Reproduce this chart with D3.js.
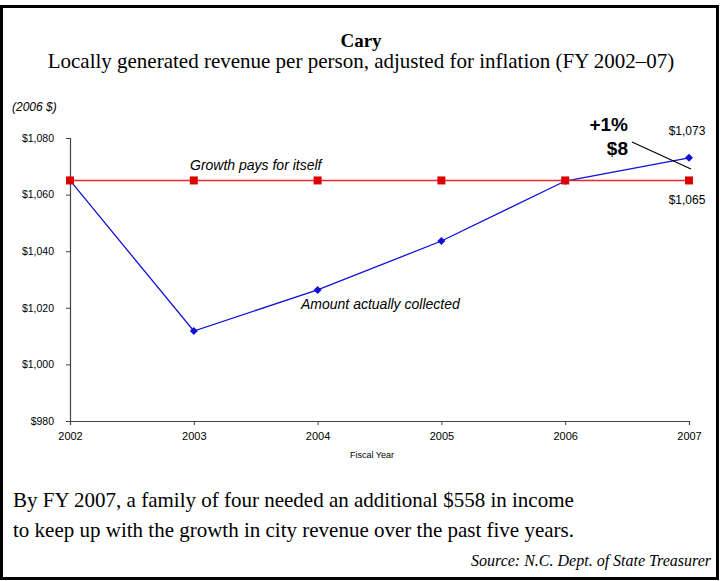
<!DOCTYPE html>
<html>
<head>
<meta charset="utf-8">
<script src="https://cdn.jsdelivr.net/npm/d3@7"></script>
<style>
  html, body { margin: 0; padding: 0; background: #fff; }
  svg { display: block; }
</style>
</head>
<body>
<script>
// Fiscal years and per-person revenue (2006 dollars)
const years = [2002, 2003, 2004, 2005, 2006, 2007];
const collected = [1065, 1011.8, 1026.3, 1043.6, 1064.8, 1073];
const growthPays = [1065, 1065, 1065, 1065, 1065, 1065];
const yTicks = [980, 1000, 1020, 1040, 1060, 1080];

const W = 723, H = 581;
const serif = "'Liberation Serif', 'Times New Roman', serif";
const sans = "'Liberation Sans', Arial, sans-serif";

const svg = d3.select("body").append("svg").attr("width", W).attr("height", H);

// outer frame
svg.append("rect").attr("x", 1.5).attr("y", 6.5).attr("width", 716).attr("height", 572)
  .attr("fill", "none").attr("stroke", "#000").attr("stroke-width", 3);

const x = d3.scaleLinear().domain([2002, 2007]).range([70, 689]);
const y = d3.scaleLinear().domain([980, 1080]).range([421, 138]);

// titles
svg.append("text").attr("x", 361).attr("y", 47).attr("text-anchor", "middle")
  .style("font-family", serif).style("font-weight", "bold").style("font-size", "19px")
  .text("Cary");
svg.append("text").attr("x", 361).attr("y", 68).attr("text-anchor", "middle")
  .style("font-family", serif).style("font-size", "21px")
  .text("Locally generated revenue per person, adjusted for inflation (FY 2002–07)");

svg.append("text").attr("x", 12).attr("y", 111)
  .style("font-family", sans).style("font-style", "italic").style("font-size", "12px")
  .text("(2006 $)");

// axes
const yAxis = d3.axisLeft(y).tickValues(yTicks).tickSize(4).tickPadding(12)
  .tickFormat(d => "$" + d3.format(",")(d));
const gy = svg.append("g").attr("transform", "translate(70,0)").call(yAxis);
const xAxis = d3.axisBottom(x).tickValues(years).tickSize(4).tickPadding(7)
  .tickFormat(d3.format("d"));
const gx = svg.append("g").attr("transform", "translate(0,421)").call(xAxis);
[gy, gx].forEach(g => {
  g.select(".domain").attr("stroke", "#444").attr("stroke-width", 1.2);
  g.selectAll(".tick line").attr("stroke", "#444");
  g.selectAll("text").style("font-family", sans).style("font-size", "11px").attr("fill", "#000");
});
gy.selectAll("text").style("font-size", "10.5px");

svg.append("text").attr("x", 372).attr("y", 458).attr("text-anchor", "middle")
  .style("font-family", sans).style("font-size", "9px").text("Fiscal Year");

// lines: collected first so the flat reference line sits on top
const line = d3.line().x((d, i) => x(years[i])).y(d => y(d));
svg.append("path").datum(collected).attr("d", line)
  .attr("fill", "none").attr("stroke", "#1010d8").attr("stroke-width", 1.3);
svg.selectAll(".dm").data(collected).join("path").attr("class", "dm")
  .attr("transform", (d, i) => `translate(${x(years[i])},${y(d)})`)
  .attr("d", "M0,-4L4,0L0,4L-4,0Z").attr("fill", "#1010d8");
svg.append("path").datum(growthPays).attr("d", line)
  .attr("fill", "none").attr("stroke", "#e8282b").attr("stroke-width", 1.5);
svg.selectAll(".sq").data(growthPays).join("rect").attr("class", "sq")
  .attr("x", (d, i) => x(years[i]) - 4).attr("y", d => y(d) - 4)
  .attr("width", 8).attr("height", 8).attr("fill", "#dd0000");

// series labels
svg.append("text").attr("x", 190).attr("y", 170)
  .style("font-family", sans).style("font-style", "italic").style("font-size", "14px")
  .text("Growth pays for itself");
svg.append("text").attr("x", 301).attr("y", 309)
  .style("font-family", sans).style("font-style", "italic").style("font-size", "14px")
  .text("Amount actually collected");

// end-point value labels
const last = years.length - 1;
svg.append("text").attr("x", x(years[last]) - 2).attr("y", 135).attr("text-anchor", "middle")
  .style("font-family", sans).style("font-size", "12px")
  .text("$" + d3.format(",")(collected[last]));
svg.append("text").attr("x", x(years[last]) - 2).attr("y", 204).attr("text-anchor", "middle")
  .style("font-family", sans).style("font-size", "12px")
  .text("$" + d3.format(",")(growthPays[last]));

// difference callout
const diff = collected[last] - growthPays[last];
svg.append("text").attr("x", 628).attr("y", 131).attr("text-anchor", "end")
  .style("font-family", sans).style("font-weight", "bold").style("font-size", "19px")
  .text("+" + Math.round(diff / growthPays[last] * 100) + "%");
svg.append("text").attr("x", 628).attr("y", 155).attr("text-anchor", "end")
  .style("font-family", sans).style("font-weight", "bold").style("font-size", "19px")
  .text("$" + Math.round(diff));
svg.append("line").attr("x1", 632).attr("y1", 142).attr("x2", x(years[last]) + 2).attr("y2", 169)
  .attr("stroke", "#000").attr("stroke-width", 1.2);

// footnote
const foot = svg.append("g").style("font-family", serif).style("font-size", "21px");
foot.append("text").attr("x", 13).attr("y", 507)
  .text("By FY 2007, a family of four needed an additional $558 in income");
foot.append("text").attr("x", 13).attr("y", 537)
  .text("to keep up with the growth in city revenue over the past five years.");
svg.append("text").attr("x", 711).attr("y", 566).attr("text-anchor", "end")
  .style("font-family", serif).style("font-style", "italic").style("font-size", "16px")
  .text("Source: N.C. Dept. of State Treasurer");
</script>
</body>
</html>
